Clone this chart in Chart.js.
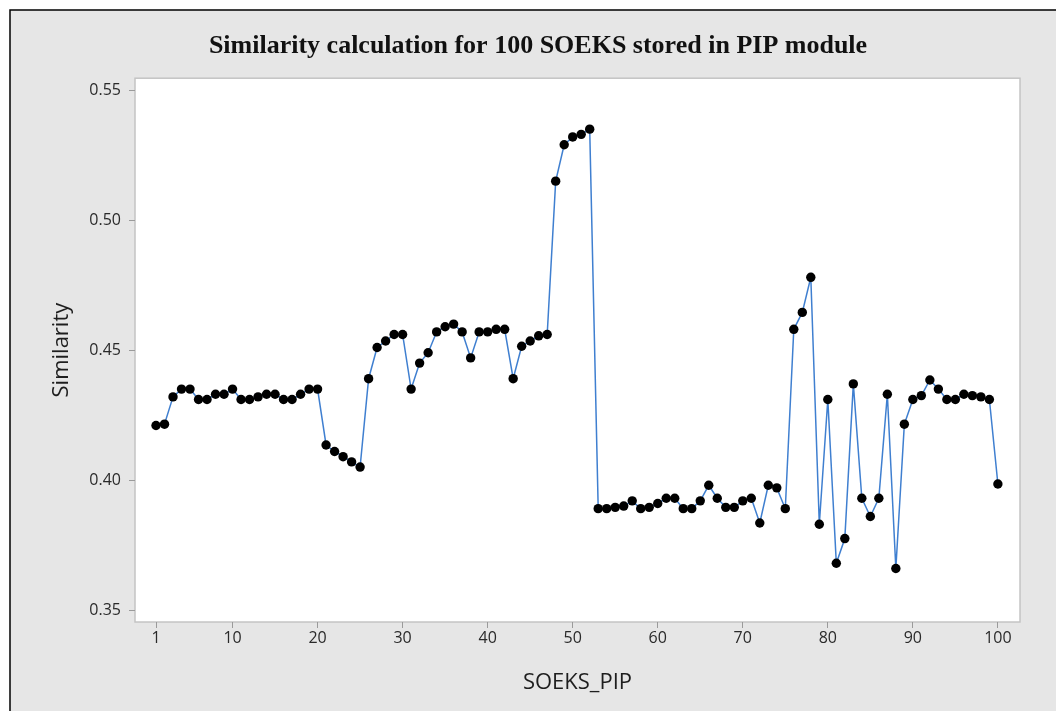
<!DOCTYPE html>
<html>
<head>
<meta charset="utf-8">
<script src="https://cdn.jsdelivr.net/npm/chart.js@4.4.1/dist/chart.umd.min.js"></script>
<style>
    html, body { margin: 0; padding: 0; background: #fff; }
    canvas { display: block; }
</style>
</head>
<body>
<canvas id="simChart" width="1056" height="711"></canvas>
<script>
// ===== DATA =====
const similarity = [
    0.421, 0.4215, 0.432, 0.435, 0.435, 0.431, 0.431, 0.433, 0.433, 0.435,
    0.431, 0.431, 0.432, 0.433, 0.433, 0.431, 0.431, 0.433, 0.435, 0.435,
    0.4135, 0.411, 0.409, 0.407, 0.405, 0.439, 0.451, 0.4535, 0.456, 0.456,
    0.435, 0.445, 0.449, 0.457, 0.459, 0.460, 0.457, 0.447, 0.457, 0.457,
    0.458, 0.458, 0.439, 0.4515, 0.4535, 0.4555, 0.456, 0.515, 0.529, 0.532,
    0.533, 0.535, 0.389, 0.389, 0.3895, 0.390, 0.392, 0.389, 0.3895, 0.391,
    0.393, 0.393, 0.389, 0.389, 0.392, 0.398, 0.393, 0.3895, 0.3895, 0.392,
    0.393, 0.3835, 0.398, 0.397, 0.389, 0.458, 0.4645, 0.478, 0.383, 0.431,
    0.368, 0.3775, 0.437, 0.393, 0.386, 0.393, 0.433, 0.366, 0.4215, 0.431,
    0.4325, 0.4385, 0.435, 0.431, 0.431, 0.433, 0.4325, 0.432, 0.431, 0.3985
];
const xTicks = [1, 10, 20, 30, 40, 50, 60, 70, 80, 90, 100];
const yTicks = [0.35, 0.40, 0.45, 0.50, 0.55];

const chartTitle = 'Similarity calculation for 100 SOEKS stored in PIP module';
const xTitle = 'SOEKS_PIP';
const yTitle = 'Similarity';

// layout of the Minitab-style frame
const PAD_LEFT = 56;
const PLOT_LEFT = 135;
const PLOT_BOTTOM_GAP = 89;

// background, outer border and white plot area
const framePlugin = {
    id: 'frame',
    beforeDraw(chart) {
        const { ctx, chartArea: a, width, height } = chart;
        ctx.save();
        ctx.fillStyle = '#ffffff';
        ctx.fillRect(0, 0, width, height);
        ctx.fillStyle = '#e6e6e6';
        ctx.fillRect(10, 10, width - 10, height - 10);
        ctx.strokeStyle = '#000';
        ctx.lineWidth = 1.5;
        ctx.beginPath();
        ctx.moveTo(10, height);
        ctx.lineTo(10, 10);
        ctx.lineTo(width, 10);
        ctx.stroke();
        ctx.fillStyle = '#ffffff';
        ctx.fillRect(a.left, a.top, a.right - a.left, a.bottom - a.top);
        ctx.strokeStyle = '#c4c4c4';
        ctx.lineWidth = 1.5;
        ctx.strokeRect(a.left, a.top, a.right - a.left, a.bottom - a.top);
        ctx.restore();
    }
};

function buildChart() {
    const ctx = document.getElementById('simChart');
    const points = similarity.map((v, i) => ({ x: i + 1, y: v }));

    new Chart(ctx, {
        type: 'line',
        data: {
            datasets: [{
                data: points,
                borderColor: '#3f7fd0',
                borderWidth: 1.5,
                backgroundColor: '#000',
                pointBackgroundColor: '#000',
                pointBorderColor: '#000',
                pointRadius: 4.7,
                pointBorderWidth: 0,
                tension: 0,
                clip: false
            }]
        },
        options: {
            responsive: false,
            animation: false,
            events: [],
            layout: { padding: { left: PAD_LEFT, right: 36, top: 0, bottom: 0 } },
            plugins: {
                legend: { display: false },
                tooltip: { enabled: false },
                title: {
                    display: true,
                    text: chartTitle,
                    color: '#111',
                    font: { family: 'Liberation Serif', size: 26, weight: 'bold' },
                    padding: { top: 31, bottom: 16 }
                }
            },
            scales: {
                x: {
                    type: 'linear',
                    min: -1.47,
                    max: 102.6,
                    afterBuildTicks: s => { s.ticks = xTicks.map(v => ({ value: v })); },
                    afterFit: s => { s.height = PLOT_BOTTOM_GAP; },
                    grid: { drawOnChartArea: false, drawTicks: true, tickLength: 6, color: '#9a9a9a' },
                    border: { display: false },
                    ticks: {
                        color: '#2a2a2a',
                        padding: 1,
                        maxRotation: 0,
                        font: { family: 'Open Sans', size: 16 }
                    },
                    title: {
                        display: true,
                        text: xTitle,
                        color: '#1e1e1e',
                        font: { family: 'Open Sans', size: 22 },
                        padding: { top: 0, bottom: 15 }
                    }
                },
                y: {
                    min: 0.3454,
                    max: 0.5546,
                    afterBuildTicks: s => { s.ticks = yTicks.map(v => ({ value: v })); },
                    afterFit: s => { s.width = PLOT_LEFT - PAD_LEFT; },
                    grid: { drawOnChartArea: false, drawTicks: true, tickLength: 6, color: '#9a9a9a' },
                    border: { display: false },
                    ticks: {
                        color: '#2a2a2a',
                        padding: 8,
                        font: { family: 'Open Sans', size: 16 },
                        callback: v => Number(v).toFixed(2)
                    },
                    title: {
                        display: true,
                        text: yTitle,
                        color: '#1e1e1e',
                        font: { family: 'Open Sans', size: 22 },
                        padding: { top: -7, bottom: 0 }
                    }
                }
            }
        },
        plugins: [framePlugin]
    });
}

window.addEventListener('DOMContentLoaded', buildChart);
</script>
</body>
</html>
